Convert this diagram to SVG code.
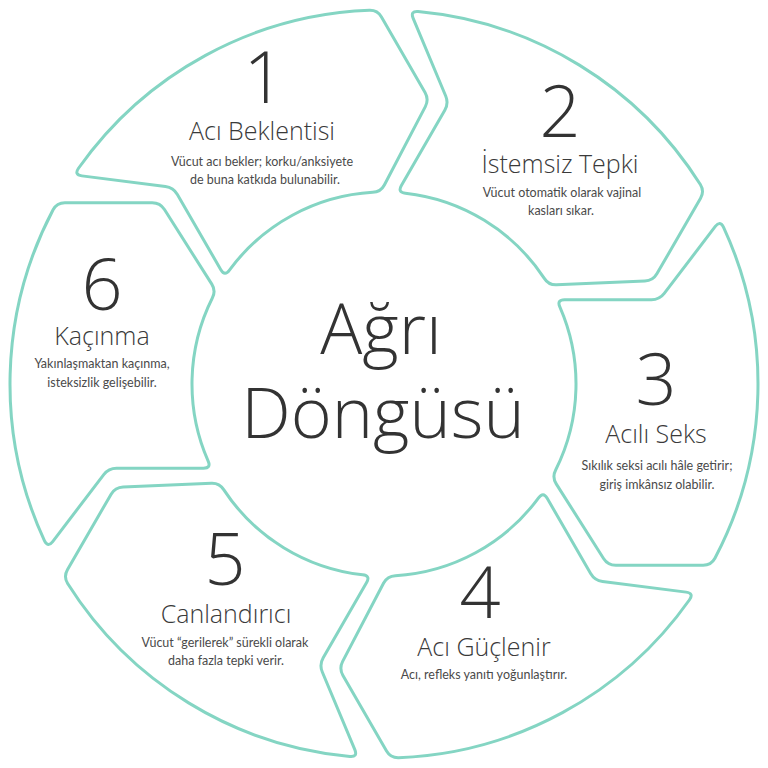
<svg xmlns="http://www.w3.org/2000/svg" width="768" height="768" viewBox="0 0 768 768">
<style>
.seg{fill:#ffffff;stroke:#84d5c3;stroke-width:3;stroke-linejoin:round}
.num{font-family:"Open Sans",sans-serif;font-weight:300;font-size:72px;fill:#333333;text-anchor:middle}
.ttl{font-family:"Open Sans",sans-serif;font-weight:300;font-size:25px;fill:#3a3a3a;text-anchor:middle}
.dsc{font-family:Lato,"Open Sans",sans-serif;font-size:12.5px;fill:#4a4a4a;text-anchor:middle}
.ctr{font-family:"Open Sans",sans-serif;font-weight:300;font-size:70px;fill:#333333;text-anchor:middle}
</style>
<defs>
<path id="segShape" d="M -165.53,-335.37 A 374 374 0 0 1 165.53,-335.37 Q 172.69,-331.74 172.89,-323.74 L 175.12,-236.49 Q 175.32,-228.49 168.68,-224.03 L 95.30,-174.77 Q 88.66,-170.31 81.47,-173.86 A 192 192 0 0 0 -81.47,-173.86 Q -88.66,-170.31 -88.87,-178.31 L -91.17,-265.12 Q -91.38,-273.12 -97.87,-277.80 L -166.20,-327.06 Q -172.69,-331.74 -165.53,-335.37 Z"/>
</defs>
<rect width="768" height="768" fill="#ffffff"/>
<g id="connectors"></g>
<g id="node1">
<use href="#segShape" class="seg" transform="translate(384,384) rotate(-28.5)"/>
<text class="num" x="264" y="103">1</text>
<text class="ttl" x="262" y="140">Acı Beklentisi</text>
<text class="dsc" x="262" y="166">Vücut acı bekler; korku/anksiyete</text>
<text class="dsc" x="265" y="184">de buna katkıda bulunabilir.</text>
</g>
<g id="node2">
<use href="#segShape" class="seg" transform="translate(384,384) rotate(31.5)"/>
<text class="num" x="560" y="137">2</text>
<text class="ttl" x="560" y="173">İstemsiz Tepki</text>
<text class="dsc" x="562" y="197">Vücut otomatik olarak vajinal</text>
<text class="dsc" x="561" y="215">kasları sıkar.</text>
</g>
<g id="node3">
<use href="#segShape" class="seg" transform="translate(384,384) rotate(91.5)"/>
<text class="num" x="656" y="405">3</text>
<text class="ttl" x="656" y="443">Acılı Seks</text>
<text class="dsc" x="657" y="470">Sıkılık seksi acılı hâle getirir;</text>
<text class="dsc" x="657" y="489">giriş imkânsız olabilir.</text>
</g>
<g id="node4">
<use href="#segShape" class="seg" transform="translate(384,384) rotate(151.5)"/>
<text class="num" x="480" y="618">4</text>
<text class="ttl" x="484" y="656">Acı Güçlenir</text>
<text class="dsc" x="484" y="679">Acı, refleks yanıtı yoğunlaştırır.</text>
</g>
<g id="node5">
<use href="#segShape" class="seg" transform="translate(384,384) rotate(211.5)"/>
<text class="num" x="225" y="585">5</text>
<text class="ttl" x="226" y="623">Canlandırıcı</text>
<text class="dsc" x="225" y="647">Vücut “gerilerek” sürekli olarak</text>
<text class="dsc" x="226" y="665">daha fazla tepki verir.</text>
</g>
<g id="node6">
<use href="#segShape" class="seg" transform="translate(384,384) rotate(271.5)"/>
<text class="num" x="102" y="310">6</text>
<text class="ttl" x="102" y="345">Kaçınma</text>
<text class="dsc" x="102" y="368">Yakınlaşmaktan kaçınma,</text>
<text class="dsc" x="102" y="387">isteksizlik gelişebilir.</text>
</g>
<g id="center">
<text class="ctr" x="381" y="354">Ağrı</text>
<text class="ctr" x="383" y="438">Döngüsü</text>
</g>
</svg>
